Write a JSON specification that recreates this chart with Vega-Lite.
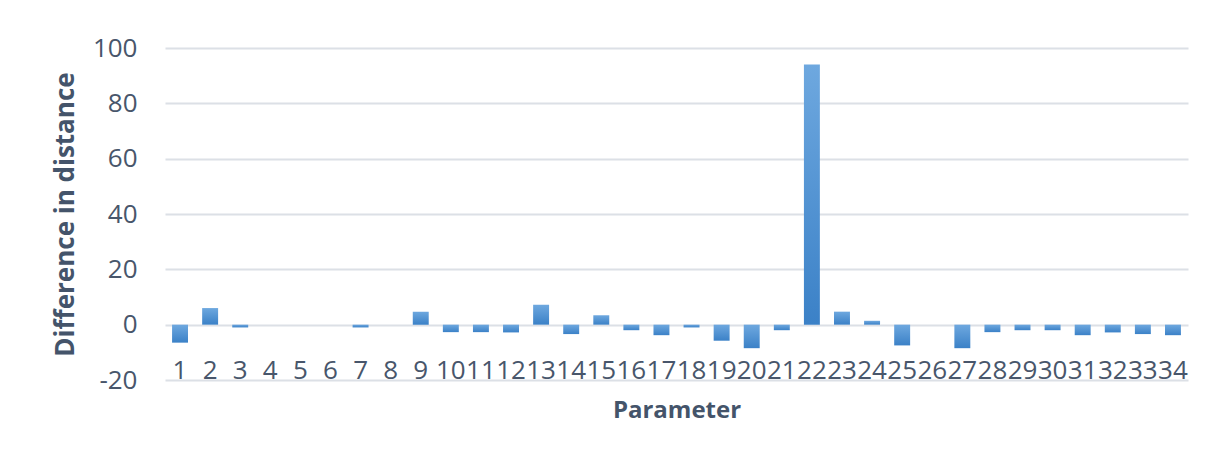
{
  "$schema": "https://vega.github.io/schema/vega-lite/v6.json",
  "width": 1023,
  "height": 332,
  "autosize": {"type": "none"},
  "padding": {"left": 165, "top": 48, "right": 30, "bottom": 92},
  "background": "white",
  "data": {
    "values": [
      {"Parameter": 1, "Difference": -6.5},
      {"Parameter": 2, "Difference": 6.0},
      {"Parameter": 3, "Difference": -1.0},
      {"Parameter": 4, "Difference": 0},
      {"Parameter": 5, "Difference": 0},
      {"Parameter": 6, "Difference": 0},
      {"Parameter": 7, "Difference": -1.0},
      {"Parameter": 8, "Difference": 0},
      {"Parameter": 9, "Difference": 4.7},
      {"Parameter": 10, "Difference": -2.7},
      {"Parameter": 11, "Difference": -2.7},
      {"Parameter": 12, "Difference": -2.8},
      {"Parameter": 13, "Difference": 7.2},
      {"Parameter": 14, "Difference": -3.4},
      {"Parameter": 15, "Difference": 3.4},
      {"Parameter": 16, "Difference": -2.0},
      {"Parameter": 17, "Difference": -3.8},
      {"Parameter": 18, "Difference": -1.0},
      {"Parameter": 19, "Difference": -5.8},
      {"Parameter": 20, "Difference": -8.5},
      {"Parameter": 21, "Difference": -2.0},
      {"Parameter": 22, "Difference": 94.0},
      {"Parameter": 23, "Difference": 4.7},
      {"Parameter": 24, "Difference": 1.4},
      {"Parameter": 25, "Difference": -7.5},
      {"Parameter": 26, "Difference": 0},
      {"Parameter": 27, "Difference": -8.5},
      {"Parameter": 28, "Difference": -2.7},
      {"Parameter": 29, "Difference": -2.0},
      {"Parameter": 30, "Difference": -2.0},
      {"Parameter": 31, "Difference": -3.8},
      {"Parameter": 32, "Difference": -2.8},
      {"Parameter": 33, "Difference": -3.4},
      {"Parameter": 34, "Difference": -3.8}
    ]
  },
  "mark": {
    "type": "bar",
    "color": {
      "gradient": "linear",
      "x1": 0, "y1": 0, "x2": 0, "y2": 1,
      "stops": [
        {"offset": 0, "color": "#6EA8DF"},
        {"offset": 1, "color": "#3B81C7"}
      ]
    }
  },
  "encoding": {
    "x": {
      "field": "Parameter",
      "type": "ordinal",
      "sort": null,
      "scale": {"paddingInner": 0.47, "paddingOuter": 0.235},
      "axis": {
        "title": "Parameter",
        "labelAngle": 0,
        "domain": false,
        "ticks": false,
        "tickSize": 0,
        "labelPadding": -2,
        "labelBaseline": "alphabetic",
        "labelFont": "Open Sans",
        "labelFontSize": 26,
        "labelColor": "#48566B",
        "labelOverlap": false,
        "titleFont": "Open Sans",
        "titleFontSize": 24,
        "titleFontWeight": "bold",
        "titleColor": "#44546A",
        "titleBaseline": "alphabetic",
        "titleY": 37
      }
    },
    "y": {
      "field": "Difference",
      "type": "quantitative",
      "scale": {"domain": [-20, 100], "nice": false},
      "axis": {
        "title": "Difference in distance",
        "values": [-20, 0, 20, 40, 60, 80, 100],
        "labelExpr": "replace(datum.label, '\u2212', '-')",
        "domain": false,
        "ticks": false,
        "tickSize": 0,
        "labelPadding": 28,
        "labelFont": "Open Sans",
        "labelFontSize": 26,
        "labelColor": "#48566B",
        "grid": true,
        "gridColor": "#DCE0E6",
        "gridWidth": 2,
        "titleFont": "Open Sans",
        "titleFontSize": 26,
        "titleFontWeight": "bold",
        "titleColor": "#44546A",
        "titleX": -100,
        "titleY": 166,
        "titleAlign": "center",
        "titleBaseline": "middle",
        "titleAngle": 270
      }
    }
  },
  "config": {
    "view": {"stroke": null}
  }
}
